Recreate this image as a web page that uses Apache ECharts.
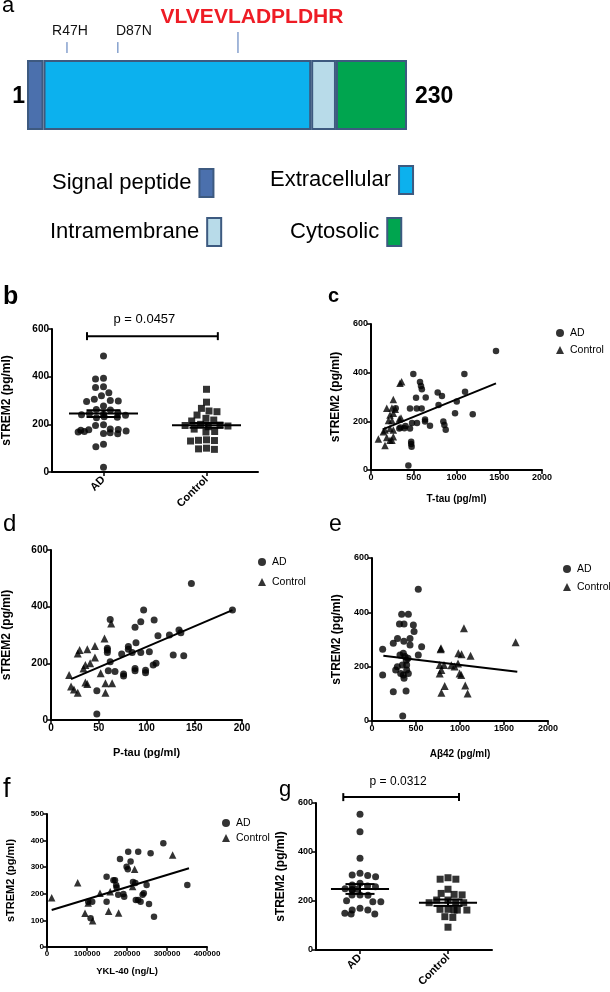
<!DOCTYPE html>
<html><head><meta charset="utf-8">
<script src="https://cdn.jsdelivr.net/npm/echarts@6/dist/echarts.min.js"></script>
<style>html,body{margin:0;padding:0;background:#fff}#c{width:610px;height:992px}</style>
</head><body><div id="c"></div>
<script>
const F = "'Liberation Sans', Arial, Helvetica, sans-serif";

// ---- Panel a: TREM2 domains ----
const domainNames = ['Signal peptide', 'Extracellular', 'Intramembrane', 'Cytosolic'];
const domainLengths = [10, 162, 15, 43];
const domainColors = ['#4b70ad', '#0cb1ee', '#b8dbe9', '#00a54f'];
const markerNames = ['R47H', 'D87N', 'VLVEVLADPLDHR'];
const markerPos = [24.2, 55, 127.7];
const markerHeight = [0.52, 0.52, 1];
const proteinEnds = ['1', '230'];

// ---- Panel b ----
const groupNames = ['AD', 'Control'];
const bAD = [487, 393, 390, 358, 355, 333, 320, 305, 300, 298, 296, 277, 262, 260, 248, 245, 242, 240, 238, 232, 230, 228, 198, 195, 180, 178, 177, 175, 172, 170, 168, 162, 160, 165, 116, 106, 20];
const bCtrl = [347, 293, 267, 256, 253, 239, 225, 218, 214, 200, 197, 195, 193, 190, 180, 170, 168, 135, 133, 132, 130, 100, 97, 95];
const bMean = [245, 196];
const bSem = [14, 10];
const bP = 'p = 0.0457';
const bBracketY = 570;

// ---- Panel c: T-tau ----
const cAD = [[1462,489],[495,395],[1092,395],[573,362],[585,345],[595,332],[527,297],[640,298],[780,318],[830,304],[1100,322],[1003,281],[790,267],[456,253],[534,253],[592,253],[289,254],[983,233],[1190,229],[632,208],[632,199],[690,182],[846,199],[858,185],[874,165],[480,193],[538,193],[403,181],[345,175],[456,171],[390,172],[331,171],[470,116],[470,107],[475,96],[437,18]];
const cCtrl = [[339,356],[358,363],[261,290],[184,254],[245,255],[284,250],[222,226],[261,233],[205,203],[245,203],[331,210],[351,214],[164,164],[144,157],[222,171],[261,164],[86,127],[164,101],[245,122],[261,137],[184,134],[222,122]];
const cFit = [[137,167],[1462,356]];

// ---- Panel d: P-tau ----
const dAD = [[147,482],[190,388],[97,388],[62,355],[94,347],[108,353],[88,327],[112,297],[124,300],[134,318],[136,308],[89,273],[81,259],[59,253],[81,250],[59,247],[59,238],[74,233],[85,238],[94,238],[103,241],[128,229],[139,227],[62,206],[60,174],[67,171],[76,162],[76,155],[88,182],[88,174],[99,176],[99,167],[107,194],[110,200],[48,103],[48,21]];
const dCtrl = [[63,341],[56,288],[46,261],[38,250],[30,247],[28,235],[46,221],[41,200],[36,194],[34,182],[52,165],[57,130],[64,130],[57,96],[36,132],[38,127],[19,159],[21,118],[24,108],[28,96]];
const dFit = [[21,144],[190,388]];

// ---- Panel e: Abeta42 ----
const eAD = [[526,485],[337,393],[413,393],[312,357],[364,357],[470,353],[290,304],[362,294],[432,304],[478,329],[242,286],[432,280],[121,264],[318,243],[356,249],[375,237],[526,243],[564,273],[409,231],[390,224],[345,206],[288,200],[269,188],[326,175],[356,169],[364,157],[394,206],[394,188],[413,175],[121,169],[242,108],[387,110],[349,18]];
const eCtrl = [[1045,341],[1632,290],[784,268],[780,264],[981,249],[1018,246],[1120,240],[769,206],[788,188],[769,175],[818,206],[826,129],[788,104],[901,205],[939,201],[977,212],[996,175],[1014,169],[1060,131],[1087,101]];
const eFit = [[129,240],[1651,181]];

// ---- Panel f: YKL-40 ----
const fAD = [[290800,390],[203000,358],[228000,358],[259000,352],[182500,331],[209000,321],[199000,302],[202000,292],[149000,264],[166000,251],[170000,251],[173000,232],[215000,244],[221000,241],[249000,233],[178000,196],[191000,199],[193000,189],[242000,202],[239000,196],[222000,177],[228000,177],[234000,170],[149000,170],[113000,170],[103000,170],[255000,162],[267500,114],[109000,108],[350800,233],[174000,224]];
const fCtrl = [[11700,185],[76700,242],[95000,127],[132500,202],[154000,134],[179000,128],[158000,208],[214000,227],[314000,346],[219000,292],[114000,99],[103000,165]];
const fFit = [[11700,139],[355000,296]];

// ---- Panel g ----
const gAD = [554, 483, 374, 313, 306, 304, 299, 272, 265, 261, 258, 250, 248, 247, 245, 225, 225, 223, 201, 197, 197, 170, 163, 163, 150, 147, 147];
const gCtrl = [295, 289, 289, 248, 231, 227, 225, 204, 204, 195, 193, 193, 166, 166, 163, 163, 163, 136, 133, 93];
const gMean = [249, 193];
const gSem = [20, 13];
const gP = 'p = 0.0312';
const gBracketY = 624;

const yName = 'sTREM2 (pg/ml)';

const chart = echarts.init(document.getElementById('c'), null, {renderer: 'canvas'});

function axisStyle(fs) {
  return {
    axisLine: {show: true, onZero: false, lineStyle: {color: '#000', width: 2}},
    axisTick: {show: true, length: 4, lineStyle: {color: '#000', width: 1.5}},
    axisLabel: {color: '#000', fontFamily: F, fontWeight: 'bold', fontSize: fs || 9, margin: 3, formatter: v => String(v)},
    splitLine: {show: false}
  };
}
function valX(grid, min, max, interval, name, gap, nfs, fs) {
  return Object.assign({gridIndex: grid, type: 'value', min, max, interval, name, nameLocation: 'middle', nameGap: gap,
    nameTextStyle: {fontFamily: F, fontWeight: 'bold', fontSize: nfs, color: '#000'}}, axisStyle(fs));
}
function valY(grid, max, interval, gap, fs, nfs) {
  return Object.assign({gridIndex: grid, type: 'value', min: 0, max, interval, name: yName, nameLocation: 'middle', nameGap: gap,
    nameTextStyle: {fontFamily: F, fontWeight: 'bold', fontSize: nfs || 12, color: '#000'}}, axisStyle(fs));
}
function catX(grid, jitter) {
  const s = axisStyle();
  s.axisTick.alignWithLabel = true;
  s.axisLabel = {color: '#000', fontFamily: F, fontWeight: 'bold', fontSize: 11, rotate: 45, margin: 6};
  return Object.assign({gridIndex: grid, type: 'category', data: groupNames, jitter: jitter, jitterOverlap: false, jitterMargin: 1}, s);
}
function hidden(o) {
  return Object.assign({show: false, axisLine: {show: false}, axisTick: {show: false}, axisLabel: {show: false}, splitLine: {show: false}}, o);
}

function meanSemRender(lineFrac, capFrac) {
  return function (params, api) {
    const x = api.value(0), m = api.value(1), s = api.value(2);
    const bw = api.size([1, 0])[0];
    const pm = api.coord([x, m]), pt = api.coord([x, m + s]), pb = api.coord([x, m - s]);
    const hw = bw * lineFrac / 2, cw = bw * capFrac / 2;
    const st = {stroke: '#000', lineWidth: 2};
    return {type: 'group', children: [
      {type: 'line', shape: {x1: pm[0] - hw, y1: pm[1], x2: pm[0] + hw, y2: pm[1]}, style: st},
      {type: 'line', shape: {x1: pt[0], y1: pt[1], x2: pb[0], y2: pb[1]}, style: st},
      {type: 'line', shape: {x1: pt[0] - cw, y1: pt[1], x2: pt[0] + cw, y2: pt[1]}, style: st},
      {type: 'line', shape: {x1: pb[0] - cw, y1: pb[1], x2: pb[0] + cw, y2: pb[1]}, style: st}
    ]};
  };
}
function bracketRender(text, lExt, rExt, fs, tdx, tdy) {
  return function (params, api) {
    const y = api.value(1);
    const p0 = api.coord([0, y]), p1 = api.coord([1, y]);
    const bw = api.size([1, 0])[0];
    const xl = p0[0] - lExt * bw, xr = p1[0] + rExt * bw, yy = p0[1];
    const st = {stroke: '#000', lineWidth: 2};
    return {type: 'group', children: [
      {type: 'line', shape: {x1: xl, y1: yy, x2: xr, y2: yy}, style: st},
      {type: 'line', shape: {x1: xl, y1: yy - 4, x2: xl, y2: yy + 4}, style: st},
      {type: 'line', shape: {x1: xr, y1: yy - 4, x2: xr, y2: yy + 4}, style: st},
      {type: 'text', x: (xl + xr) / 2 + tdx, y: yy + tdy, style: {text: text, fill: '#000', fontFamily: F, fontSize: fs, align: 'center', verticalAlign: 'middle'}}
    ]};
  };
}

const grids = [
  {left: 27, top: 60, width: 380, height: 70},
  {left: 27, top: 32, width: 380, height: 21},
  {left: 52, top: 329, width: 206, height: 143},
  {left: 371, top: 324, width: 171, height: 146},
  {left: 48, top: 550, width: 194, height: 170},
  {left: 372, top: 558, width: 176, height: 163},
  {left: 47, top: 814, width: 160, height: 133},
  {left: 316, top: 803, width: 176, height: 147}
];

const xAxes = [
  hidden({gridIndex: 0, type: 'value', min: 0, max: 230}),
  hidden({gridIndex: 1, type: 'value', min: 0, max: 230}),
  catX(2, 52),
  valX(3, 0, 2000, 500, 'T-tau (pg/ml)', 24, 10, 9),
  valX(4, 0, 200, 50, 'P-tau (pg/ml)', 27, 11, 10),
  valX(5, 0, 2000, 500, 'A\u03b242 (pg/ml)', 28, 10, 9),
  valX(6, 0, 400000, 100000, 'YKL-40 (ng/L)', 19, 9.5, 8),
  catX(7, 44)
];
const yAxes = [
  hidden({gridIndex: 0, type: 'category', data: ['TREM2']}),
  hidden({gridIndex: 1, type: 'value', min: 0, max: 1}),
  valY(2, 600, 200, 39, 10),
  valY(3, 600, 200, 29, 9),
  valY(4, 600, 200, 38, 10),
  valY(5, 600, 200, 29, 9),
  valY(6, 500, 100, 31, 8, 11),
  valY(7, 600, 200, 29, 9)
];

const series = [];
// Panel a bars
domainNames.forEach((n, i) => {
  series.push({name: n, type: 'bar', xAxisIndex: 0, yAxisIndex: 0, stack: 'protein', barWidth: '100%',
    data: [domainLengths[i]], itemStyle: {color: domainColors[i], borderColor: '#3d5a80', borderWidth: 2}, silent: true});
});
// Panel a markers
const markerDx = [3, 16, 14];
series.push({type: 'custom', xAxisIndex: 1, yAxisIndex: 1, clip: false,
  data: markerPos.map((p, i) => [p, markerHeight[i]]),
  renderItem: function (params, api) {
    const i = params.dataIndex;
    const pep = markerNames[i] === 'VLVEVLADPLDHR';
    const p0 = api.coord([api.value(0), 0]);
    const p1 = api.coord([api.value(0), api.value(1)]);
    return {type: 'group', children: [
      {type: 'line', shape: {x1: p0[0], y1: p0[1], x2: p1[0], y2: p1[1]}, style: {stroke: '#4a72b5', lineWidth: 1}},
      {type: 'text', x: p1[0] + markerDx[i], y: p1[1] - (pep ? 15 : 11),
        style: {text: markerNames[i], fill: pep ? '#ee1c25' : '#111', fontFamily: F, fontWeight: pep ? 'bold' : 'normal',
          fontSize: pep ? 21 : 14, align: 'center', verticalAlign: 'middle'}}
    ]};
  }
});

function scatterPair(xi, ad, ctrl, adSym, ctrlSym, size, fit) {
  series.push({name: 'AD', type: 'scatter', xAxisIndex: xi, yAxisIndex: xi, data: ad, symbol: adSym, symbolSize: size,
    itemStyle: {color: '#000'}, z: 2});
  series.push({name: 'Control', type: 'scatter', xAxisIndex: xi, yAxisIndex: xi, data: ctrl, symbol: ctrlSym,
    symbolSize: ctrlSym === 'triangle' ? size + 1 : size, itemStyle: {color: '#000'}, z: 2});
  if (fit) series.push({type: 'line', xAxisIndex: xi, yAxisIndex: xi, data: fit, showSymbol: false, symbol: 'none',
    lineStyle: {color: '#000', width: 2}, z: 3});
}
// b
scatterPair(2, bAD.map(v => [0, v]), bCtrl.map(v => [1, v]), 'circle', 'rect', 7);
series.push({type: 'custom', xAxisIndex: 2, yAxisIndex: 2, z: 4, clip: false,
  data: [[0, bMean[0], bSem[0]], [1, bMean[1], bSem[1]]], renderItem: meanSemRender(0.67, 0.33)});
series.push({type: 'custom', xAxisIndex: 2, yAxisIndex: 2, z: 4, clip: false,
  data: [[0, bBracketY]], renderItem: bracketRender(bP, 0.16, 0.11, 13, -8, -17)});
// c, d, e, f
scatterPair(3, cAD, cCtrl, 'circle', 'triangle', 6.5, cFit);
scatterPair(4, dAD, dCtrl, 'circle', 'triangle', 7, dFit);
scatterPair(5, eAD, eCtrl, 'circle', 'triangle', 7, eFit);
scatterPair(6, fAD, fCtrl, 'circle', 'triangle', 6.5, fFit);
// g
scatterPair(7, gAD.map(v => [0, v]), gCtrl.map(v => [1, v]), 'circle', 'rect', 7);
series.push({type: 'custom', xAxisIndex: 7, yAxisIndex: 7, z: 4, clip: false,
  data: [[0, gMean[0], gSem[0]], [1, gMean[1], gSem[1]]], renderItem: meanSemRender(0.66, 0.33)});
series.push({type: 'custom', xAxisIndex: 7, yAxisIndex: 7, z: 4, clip: false,
  data: [[0, gBracketY]], renderItem: bracketRender(gP, 0.19, 0.125, 12, -3, -15)});

function domLegend(name, left, top) {
  return {left, top, padding: 0, align: 'right', itemWidth: 14, itemHeight: 28, selectedMode: false,
    data: [{name: name, icon: 'rect'}],
    itemStyle: {borderColor: '#3d5a80', borderWidth: 2},
    textStyle: {fontFamily: F, fontSize: 22, color: '#000', padding: [0, 3, 0, 0]}};
}
function ptLegend(left, top, gap) {
  return {left, top, padding: 0, orient: 'vertical', itemWidth: 8, itemHeight: 8, itemGap: gap, selectedMode: false,
    data: [{name: 'AD', icon: 'circle'}, {name: 'Control', icon: 'triangle'}],
    textStyle: {fontFamily: F, fontSize: 10.5, lineHeight: 14, color: '#000', padding: [0, 0, 0, 1]}};
}

const letters = [
  ['a', 2, 13, 22, 'normal'], ['b', 3, 305, 25, 'bold'], ['c', 328, 303, 20, 'bold'],
  ['d', 3, 532, 24, 'normal'], ['e', 329, 532, 23, 'normal'], ['f', 3, 798, 27, 'normal'], ['g', 279, 797, 22, 'normal']
];
const graphic = letters.map(l => ({type: 'text', x: l[1], y: l[2] - 0.33 * l[3],
  style: {text: l[0], fill: '#000', fontFamily: F, fontSize: l[3], fontWeight: l[4], verticalAlign: 'middle'}}));
graphic.push({type: 'text', x: 25, y: 97, style: {text: proteinEnds[0], fill: '#000', fontFamily: F, fontSize: 23, fontWeight: 'bold', align: 'right', verticalAlign: 'middle'}});
graphic.push({type: 'text', x: 415, y: 97, style: {text: proteinEnds[1], fill: '#000', fontFamily: F, fontSize: 23, fontWeight: 'bold', align: 'left', verticalAlign: 'middle'}});

chart.setOption({
  animation: false,
  backgroundColor: '#fff',
  grid: grids,
  xAxis: xAxes,
  yAxis: yAxes,
  legend: [
    domLegend('Signal peptide', 52, 168), domLegend('Extracellular', 270, 165),
    domLegend('Intramembrane', 50, 217), domLegend('Cytosolic', 290, 217),
    ptLegend(556, 326, 3), ptLegend(258, 555, 6), ptLegend(563, 562, 4), ptLegend(222, 816, 1)
  ],
  graphic: graphic,
  series: series
});
</script></body></html>
